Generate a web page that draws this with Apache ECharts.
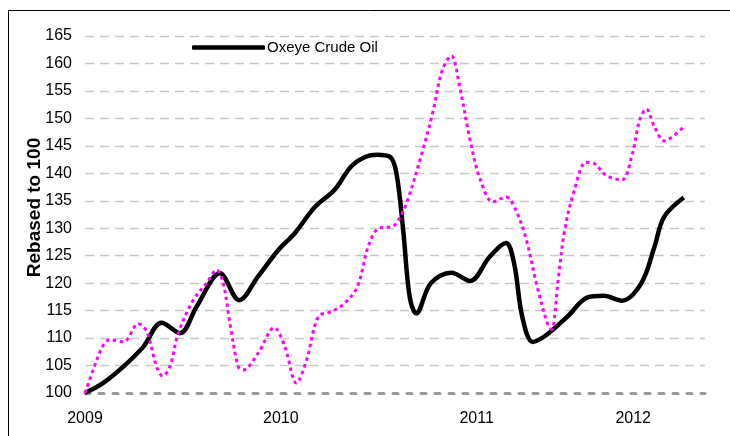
<!DOCTYPE html>
<html>
<head>
<meta charset="utf-8">
<script src="https://cdn.jsdelivr.net/npm/echarts@6/dist/echarts.min.js"></script>
<style>
html,body{margin:0;padding:0;background:#fff;}
#c{width:730px;height:436px;}
</style>
</head>
<body>
<div id="c"></div>
<script>
// Months since Jan 2009 and index values (rebased to 100)
var oxeyeMonths = [0,1.1,2.35,3.57,4.7,5.82,6.84,8.27,9.45,10.6,11.84,12.86,14.1,15.3,16.3,17.2,17.9,18.7,19.09,19.5,19.9,20.3,21.2,22.45,23.6,24.8,25.8,26.3,26.8,27.45,28.3,29.6,30.8,31.8,32.9,34.1,34.9,35.5,36.7];
var oxeyeValues = [100,101.8,104.8,108.4,112.8,110.9,115.7,121.8,116.9,121.2,126.0,129.1,133.9,137.0,141.2,143.0,143.4,143.0,140.0,129.7,117.5,114.5,120.0,121.9,120.4,124.8,127.3,123.6,113.9,109.3,110.6,114.0,117.4,117.7,116.8,120.0,126.6,132.1,135.6];

var futuresMonths = [0,0.5,1.12,1.53,2.35,3.27,3.78,4.39,4.76,5.2,5.72,6.63,7.45,8.06,8.47,8.88,9.39,9.69,10.6,11.6,12.25,12.96,13.58,14.3,15.1,15.9,16.7,17.35,17.96,18.78,19.09,19.7,20.7,21.3,21.9,22.45,22.96,23.6,24.2,25.0,25.8,26.4,27.05,27.66,28.4,28.6,29.0,29.4,30.0,30.7,31.2,31.9,32.9,33.5,34.0,34.4,34.9,35.5,36.7];
var futuresValues = [100,104.2,108.7,109.7,109.3,112.6,111.2,104.8,103.1,104.8,110.9,116.9,120.0,122.4,120.0,112.7,104.8,104.2,107.2,111.9,108.4,101.8,106.0,113.9,114.8,116.3,119.4,126.6,129.9,130.3,130.9,134.5,144.2,150.9,158.8,161.4,155.8,146.1,139.1,134.8,135.7,133.3,127.9,120.0,112.1,111.6,120.6,129.7,137.0,142.0,141.8,139.7,138.8,143.0,149.7,151.7,148.5,145.9,148.5];

var xTickMonths = [0,12,24,33.6];
var xTickLabels = ["2009","2010","2011","2012"];
var seriesNames = ["Oxeye Crude Oil","Crude Oil Futures"];
var yAxisTitle = "Rebased to 100";

function zip(a,b){ return a.map(function(v,i){ return [v,b[i]]; }); }

var chart = echarts.init(document.getElementById('c'), null, {renderer:'canvas'});
var font = "'Liberation Sans', Arial, sans-serif";
chart.setOption({
  animation:false,
  backgroundColor:'#fff',
  graphic:[{type:'rect', shape:{x:8.5,y:10.5,width:900,height:600}, style:{fill:'none',stroke:'#000',lineWidth:1}, silent:true, z:-10}],
  grid:{left:85,right:25,top:36,bottom:43},
  legend:{
    data:[{name:seriesNames[0], icon:'roundRect'}],
    left:192, top:40, itemWidth:73, itemHeight:4.5, padding:0,
    itemStyle:{color:'#000', borderWidth:0},
    textStyle:{fontFamily:font,fontSize:15,color:'#000',padding:[0,0,0,-3]}
  },
  xAxis:{
    type:'value', min:0, max:38,
    axisLine:{show:true, lineStyle:{color:'#999',width:3,type:[5,9]}},
    axisTick:{show:false},
    splitLine:{show:false},
    axisLabel:{
      customValues:xTickMonths,
      margin:18,
      fontFamily:font,fontSize:16,color:'#000',
      formatter:function(v){ var i = xTickMonths.indexOf(v); return i>=0 ? xTickLabels[i] : ''; }
    }
  },
  yAxis:{
    type:'value', min:100, max:165, interval:5,
    name:yAxisTitle, nameLocation:'middle', nameGap:41, nameRotate:90, nameMoveOverlap:false,
    nameTextStyle:{fontFamily:font,fontSize:19,fontWeight:'bold',color:'#000',padding:[0,0,0,14]},
    axisLine:{show:false}, axisTick:{show:false},
    axisLabel:{margin:13,fontFamily:font,fontSize:16,color:'#000'},
    splitLine:{show:true, showMinLine:false, lineStyle:{color:'#c8c8c8',width:1.3,type:[9,6]}}
  },
  series:[
    {name:seriesNames[0], type:'line', data:zip(oxeyeMonths,oxeyeValues), smooth:0.35, symbol:'none',
     lineStyle:{color:'#000',width:4.5}, itemStyle:{color:'#000'}, z:2},
    {name:seriesNames[1], type:'line', data:zip(futuresMonths,futuresValues), smooth:0.35, symbol:'none',
     lineStyle:{color:'#ff00ff',width:3,type:[3.5,3.5]}, itemStyle:{color:'#ff00ff'}, z:3}
  ]
});
</script>
</body>
</html>
